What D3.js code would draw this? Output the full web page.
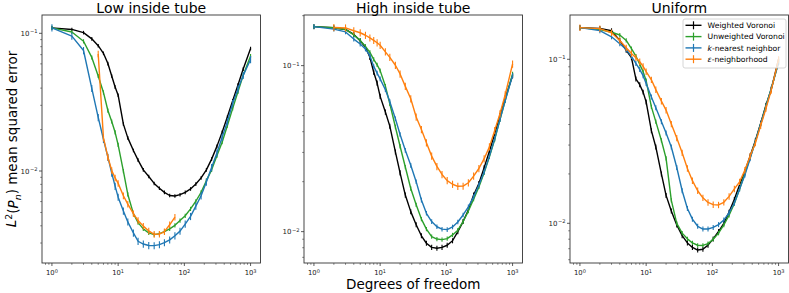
<!DOCTYPE html>
<html><head><meta charset="utf-8">
<script src="https://cdn.jsdelivr.net/npm/d3@7"></script>
<style>body{margin:0;background:#fff}svg{display:block;font-family:"DejaVu Sans",sans-serif}</style>
</head><body><svg id="c" width="789" height="293"></svg>
<script>
// ---- data ----
const dof = [1,2,3,4,5,6,7,8,9,10,12,14,17,20,24,29,35,42,50,60,72,86,103,124,149,179,215,258,310,372,447,537,645,774,1000];
const seriesNames = ["Weighted Voronoi","Unweighted Voronoi","k-nearest neighbor","ε-neighborhood"];
const seriesColors = ["#000000","#2ca02c","#1f77b4","#ff7f0e"];
const panelTitles = ["Low inside tube","High inside tube","Uniform"];

const lowWeighted = [0.1096,0.1067,0.1012,0.0912,0.0813,0.0716,0.0603,0.049,0.0407,0.0355,0.0219,0.0174,0.0141,0.012,0.0102,0.00912,0.00813,0.0075,0.0070,0.00664,0.00658,0.00673,0.0070,0.00741,0.00804,0.00891,0.0102,0.0122,0.0151,0.0191,0.0248,0.0324,0.0422,0.055,0.0776];
const lowUnweighted = [0.1096,0.1023,0.0875,0.0668,0.049,0.0372,0.0275,0.0229,0.0191,0.0155,0.0100,0.00676,0.0049,0.00422,0.0038,0.00355,0.00345,0.00351,0.00363,0.0038,0.00403,0.00437,0.00473,0.00531,0.00603,0.0070,0.00851,0.0102,0.0129,0.0162,0.0214,0.0285,0.0376,0.0495,0.0684];
const lowKnn = [0.1096,0.0955,0.075,0.0398,0.0245,0.017,0.0126,0.00966,0.00776,0.00646,0.00513,0.00427,0.00355,0.00309,0.00295,0.00288,0.00287,0.00292,0.00302,0.00316,0.00339,0.00366,0.00412,0.00468,0.00556,0.00661,0.00832,0.0106,0.0135,0.0176,0.0229,0.0309,0.0394,0.0495,0.0646];
const lowEps = [null,null,null,null,0.0708,0.0174,0.0126,0.0101,0.00891,0.00813,0.00661,0.00575,0.0049,0.00437,0.00398,0.00367,0.00347,0.00348,0.00363,0.00407,0.00462,null,null,null,null,null,null,null,null,null,null,null,null,null,null];

const highWeighted = [0.1718,0.169,0.1652,0.1542,0.1413,0.1294,0.1122,0.0912,0.0785,0.0653,0.0525,0.0432,0.0302,0.0226,0.0166,0.0132,0.011,0.00944,0.00851,0.00804,0.00794,0.00804,0.00828,0.00881,0.0100,0.0115,0.0135,0.0166,0.0195,0.0243,0.0305,0.0389,0.0501,0.0638,0.0871];
const highUnweighted = [0.1718,0.169,0.1652,0.1531,0.1419,0.1303,0.1202,0.1091,0.1012,0.0933,0.0753,0.0589,0.0427,0.0327,0.0245,0.0182,0.0145,0.0119,0.01035,0.00933,0.00902,0.00895,0.00908,0.00955,0.0102,0.0115,0.0133,0.0157,0.0186,0.0226,0.0282,0.0359,0.0473,0.0617,0.0891];
const highKnn = [0.1718,0.166,0.1596,0.1445,0.1349,0.1259,0.1148,0.0989,0.0902,0.0832,0.0716,0.0607,0.0479,0.0385,0.0309,0.0251,0.02,0.0155,0.0129,0.0115,0.0107,0.01035,0.01028,0.01067,0.01143,0.0126,0.0141,0.0162,0.0191,0.0229,0.0285,0.0363,0.0473,0.0617,0.0871];
const highEps = [null,0.1698,0.1687,0.1622,0.1578,0.1524,0.1469,0.1419,0.1374,0.1327,0.121,0.1122,0.1005,0.0891,0.075,0.0631,0.049,0.0412,0.0343,0.0285,0.0247,0.0221,0.0203,0.0193,0.01875,0.01879,0.0197,0.0216,0.024,0.0275,0.0324,0.0407,0.0513,0.0668,0.1023];

const uniWeighted = [0.156,0.1542,0.1493,0.1303,0.1135,0.1023,0.0759,0.07,0.0631,0.055,0.0367,0.0292,0.02,0.0148,0.0119,0.00977,0.00841,0.00759,0.00713,0.00687,0.00695,0.00736,0.00804,0.00891,0.0100,0.0117,0.014,0.0172,0.0207,0.0257,0.032,0.0407,0.0525,0.0653,0.1];
const uniUnweighted = [0.156,0.152,0.1462,0.1406,0.1303,0.1161,0.1047,0.0933,0.0841,0.0741,0.0513,0.0417,0.032,0.0249,0.0138,0.01,0.00871,0.00804,0.00759,0.00735,0.00733,0.00752,0.008,0.00871,0.00977,0.0112,0.0132,0.0162,0.0202,0.0251,0.0316,0.0403,0.0519,0.0661,0.0955];
const uniKnn = [0.156,0.1496,0.1371,0.1245,0.1148,0.1042,0.0944,0.0867,0.0794,0.0711,0.0589,0.0507,0.0417,0.0355,0.0292,0.0219,0.0158,0.0123,0.0106,0.00959,0.00923,0.00923,0.00944,0.00982,0.01047,0.0116,0.0133,0.0162,0.0197,0.0248,0.0316,0.0403,0.0513,0.0661,0.0955];
const uniEps = [0.156,0.1538,0.1452,0.1303,0.1175,0.1084,0.1023,0.0966,0.0906,0.0841,0.075,0.0653,0.0556,0.049,0.0403,0.0331,0.0269,0.0216,0.0182,0.0158,0.0143,0.0134,0.013,0.01294,0.01343,0.0146,0.0162,0.0179,0.0211,0.0257,0.0309,0.0394,0.0501,0.0646,0.1];

// relative error (fraction of value) per series
const lowErr  = [0.03,0.035,0.06,0.055];
const highErr = [0.035,0.03,0.032,0.05];
const uniErr  = [0.035,0.03,0.035,0.045];

// ---- layout ----
const svg = d3.select("#c");
const TOP = 15, BOT = 263;
const panels = [
  {title: panelTitles[0], left: 42,  right: 260.5, yExp: [-2.668, -0.867], series: [lowWeighted, lowUnweighted, lowKnn, lowEps], err: lowErr},
  {title: panelTitles[1], left: 304, right: 522.5, yExp: [-2.189, -0.695], series: [highWeighted, highUnweighted, highKnn, highEps], err: highErr},
  {title: panelTitles[2], left: 570, right: 788.5, yExp: [-2.242, -0.730], series: [uniWeighted, uniUnweighted, uniKnn, uniEps], err: uniErr}
];

function supLabel(sel, exp) {
  sel.text("10");
  sel.append("tspan").attr("dy", "-0.45em").attr("dx", exp < 0 ? "0.1em" : "0").attr("font-size", "0.74em")
    .text(exp < 0 ? "\u2212" + Math.abs(exp) : String(exp));
}

panels.forEach((p, pi) => {
  const x = d3.scaleLog().domain([Math.pow(10, -0.15), Math.pow(10, 3.15)]).range([p.left, p.right]);
  const y = d3.scaleLog().domain([Math.pow(10, p.yExp[0]), Math.pow(10, p.yExp[1])]).range([BOT, TOP]);
  const g = svg.append("g");

  // x ticks
  x.ticks().forEach(t => {
    const e = Math.log10(t), major = Math.abs(e - Math.round(e)) < 1e-9;
    const px = x(t);
    g.append("line").attr("x1", px).attr("x2", px).attr("y1", BOT).attr("y2", BOT + (major ? 3 : 1.8))
      .attr("stroke", "#333").attr("stroke-width", major ? 0.8 : 0.6);
    if (major) {
      const tx = g.append("text").attr("x", px).attr("y", 275).attr("text-anchor", "middle")
        .attr("font-size", 6.8).attr("fill", "#222");
      supLabel(tx, Math.round(e));
    }
  });
  // y ticks
  y.ticks().forEach(t => {
    const e = Math.log10(t), major = Math.abs(e - Math.round(e)) < 1e-9;
    const py = y(t);
    g.append("line").attr("x1", p.left).attr("x2", p.left - (major ? 3 : 1.8)).attr("y1", py).attr("y2", py)
      .attr("stroke", "#333").attr("stroke-width", major ? 0.8 : 0.6);
    if (major) {
      const tx = g.append("text").attr("x", p.left - 4.5).attr("y", py + 2.5).attr("text-anchor", "end")
        .attr("font-size", 7).attr("fill", "#222");
      supLabel(tx, Math.round(e));
    }
  });

  // series
  p.series.forEach((vals, si) => {
    const pts = dof.map((d, i) => ({x: d, y: vals[i]})).filter(d => d.y != null);
    const line = d3.line().x(d => x(d.x)).y(d => y(d.y));
    g.append("path").attr("d", line(pts)).attr("fill", "none")
      .attr("stroke", seriesColors[si]).attr("stroke-width", 1.4).attr("stroke-linejoin", "round");
    const f = p.err[si];
    g.selectAll(null).data(pts).enter().append("line")
      .attr("x1", d => x(d.x)).attr("x2", d => x(d.x))
      .attr("y1", d => y(d.y * (1 - f))).attr("y2", d => y(d.y * (1 + f)))
      .attr("stroke", seriesColors[si]).attr("stroke-width", 1.1);
  });

  // frame
  g.append("rect").attr("x", p.left).attr("y", TOP).attr("width", p.right - p.left).attr("height", BOT - TOP)
    .attr("fill", "none").attr("stroke", "#333").attr("stroke-width", 0.9);

  // title
  svg.append("text").attr("x", (p.left + p.right) / 2).attr("y", 13.2).attr("text-anchor", "middle")
    .attr("font-size", 14).attr("fill", "#000").text(p.title);

  // legend in last panel
  if (pi === 2) {
    const lg = svg.append("g");
    lg.append("rect").attr("x", 683).attr("y", 19).attr("width", 103).attr("height", 49).attr("rx", 2)
      .attr("fill", "#fff").attr("fill-opacity", 0.8).attr("stroke", "#ccc").attr("stroke-width", 0.8);
    seriesNames.forEach((nm, si) => {
      const cy = 25.3 + si * 11.3;
      lg.append("line").attr("x1", 685.5).attr("x2", 701.5).attr("y1", cy).attr("y2", cy)
        .attr("stroke", seriesColors[si]).attr("stroke-width", 1.4);
      lg.append("line").attr("x1", 693.5).attr("x2", 693.5).attr("y1", cy - 4).attr("y2", cy + 4)
        .attr("stroke", seriesColors[si]).attr("stroke-width", 1.2);
      const t = lg.append("text").attr("x", 707.5).attr("y", cy + 2.7).attr("font-size", 7.7).attr("fill", "#000");
      if (si === 2) { t.append("tspan").attr("font-style", "italic").text("k"); t.append("tspan").text("-nearest neighbor"); }
      else if (si === 3) { t.append("tspan").attr("font-style", "italic").text("ε"); t.append("tspan").text("-neighborhood"); }
      else t.text(nm);
    });
  }
});

// axis labels
svg.append("text").attr("x", (panels[1].left + panels[1].right) / 2).attr("y", 288.5).attr("text-anchor", "middle")
  .attr("font-size", 13.5).attr("fill", "#000").text("Degrees of freedom");

const yl = svg.append("text").attr("transform", "translate(16," + ((TOP + BOT) / 2) + ") rotate(-90)")
  .attr("text-anchor", "middle").attr("font-size", 13.5).attr("fill", "#000");
yl.append("tspan").attr("font-style", "italic").text("L");
yl.append("tspan").attr("dy", "-0.45em").attr("font-size", "0.7em").text("2");
yl.append("tspan").attr("dy", "0.45em").text("(");
yl.append("tspan").attr("font-style", "italic").text("P");
yl.append("tspan").attr("dy", "0.3em").attr("font-size", "0.7em").attr("font-style", "italic").text("n");
yl.append("tspan").attr("dy", "-0.3em").text(")");
yl.append("tspan").text(" mean squared error");
</script>
</body></html>
